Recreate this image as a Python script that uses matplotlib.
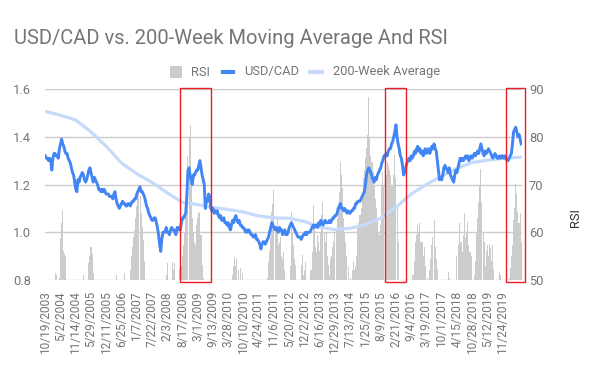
import matplotlib
matplotlib.use("Agg")
import matplotlib.pyplot as plt
from matplotlib.patches import Rectangle
from matplotlib.lines import Line2D
import numpy as np

plt.rcParams['font.family'] = ['Roboto', 'DejaVu Sans']

# ---------------- data (sampled every 2 weeks from 10/19/2003) ----------------
SAMPLE_WEEKS = 2
N_WEEKS = 876

usdcad_2003 = [1.32, 1.31, 1.31, 1.30, 1.31, 1.30, 1.26, 1.31, 1.33, 1.33, 1.32, 1.32, 1.31, 1.35, 1.37, 1.39, 1.37, 1.36, 1.34, 1.33, 1.33, 1.31, 1.30, 1.29, 1.27, 1.25]
usdcad_2004 = [1.24, 1.21, 1.18, 1.17, 1.22, 1.21, 1.23, 1.24, 1.25, 1.24, 1.22, 1.21, 1.22, 1.24, 1.26, 1.27, 1.25, 1.23, 1.21, 1.23, 1.22, 1.21, 1.20, 1.18, 1.18, 1.17]
usdcad_2005 = [1.18, 1.17, 1.18, 1.17, 1.16, 1.16, 1.16, 1.15, 1.15, 1.15, 1.14, 1.16, 1.17, 1.14, 1.12, 1.11, 1.10, 1.11, 1.12, 1.13, 1.12, 1.12, 1.11, 1.11, 1.12, 1.12]
usdcad_2006 = [1.11, 1.12, 1.13, 1.13, 1.14, 1.14, 1.16, 1.17, 1.18, 1.19, 1.17, 1.17, 1.16, 1.15, 1.13, 1.11, 1.10, 1.08, 1.07, 1.06, 1.05, 1.05, 1.06, 1.06, 1.04, 1.02]
usdcad_2007 = [0.99, 0.95, 0.92, 0.97, 1.00, 1.00, 1.00, 1.02, 1.00, 1.00, 0.99, 1.01, 1.02, 1.01, 1.01, 1.00, 0.99, 1.02, 1.02, 1.01, 1.01, 1.04, 1.06, 1.06, 1.07, 1.08]
usdcad_2008 = [1.15, 1.26, 1.27, 1.24, 1.22, 1.20, 1.24, 1.24, 1.25, 1.26, 1.26, 1.28, 1.30, 1.27, 1.24, 1.22, 1.20, 1.10, 1.14, 1.13, 1.16, 1.15, 1.10, 1.09, 1.10, 1.08]
usdcad_2009 = [1.09, 1.08, 1.09, 1.07, 1.06, 1.07, 1.05, 1.05, 1.06, 1.04, 1.04, 1.03, 1.04, 1.02, 1.01, 1.03, 1.05, 1.04, 1.06, 1.07, 1.05, 1.04, 1.05, 1.03, 1.03, 1.02]
usdcad_2010 = [1.02, 1.01, 1.00, 1.01, 1.00, 1.01, 1.00, 0.99, 0.99, 0.98, 0.98, 0.99, 0.97, 0.97, 0.96, 0.95, 0.93, 0.95, 0.96, 0.96, 0.95, 0.96, 0.97, 0.98, 1.00, 1.02]
usdcad_2011 = [1.04, 1.03, 1.02, 1.01, 1.02, 1.01, 1.00, 1.02, 1.01, 1.01, 0.99, 1.00, 1.01, 0.99, 0.99, 1.00, 1.02, 1.03, 1.04, 1.03, 1.02, 1.01, 1.00, 0.99, 0.98, 0.98]
usdcad_2012 = [0.98, 0.97, 0.98, 0.99, 0.99, 1.00, 0.99, 1.00, 1.00, 1.00, 1.01, 1.02, 1.03, 1.02, 1.03, 1.03, 1.02, 1.04, 1.03, 1.05, 1.04, 1.03, 1.04, 1.05, 1.04, 1.04]
usdcad_2013 = [1.04, 1.05, 1.04, 1.05, 1.06, 1.06, 1.07, 1.07, 1.08, 1.10, 1.11, 1.12, 1.10, 1.10, 1.09, 1.10, 1.09, 1.08, 1.09, 1.08, 1.08, 1.09, 1.09, 1.10, 1.10, 1.12]
usdcad_2014 = [1.12, 1.13, 1.13, 1.13, 1.14, 1.15, 1.16, 1.17, 1.20, 1.24, 1.26, 1.27, 1.26, 1.25, 1.23, 1.22, 1.21, 1.23, 1.22, 1.24, 1.25, 1.26, 1.27, 1.29, 1.30, 1.32]
usdcad_2015 = [1.32, 1.33, 1.32, 1.34, 1.35, 1.35, 1.37, 1.38, 1.40, 1.42, 1.45, 1.40, 1.37, 1.35, 1.32, 1.31, 1.28, 1.24, 1.25, 1.27, 1.29, 1.30, 1.31, 1.30, 1.32, 1.31]
usdcad_2016 = [1.32, 1.34, 1.33, 1.35, 1.36, 1.34, 1.35, 1.33, 1.34, 1.32, 1.34, 1.35, 1.33, 1.34, 1.35, 1.33, 1.34, 1.36, 1.35, 1.37, 1.35, 1.34, 1.30, 1.26, 1.22, 1.23]
usdcad_2017 = [1.22, 1.24, 1.27, 1.28, 1.27, 1.26, 1.25, 1.27, 1.24, 1.23, 1.22, 1.21, 1.24, 1.26, 1.25, 1.27, 1.29, 1.31, 1.30, 1.31, 1.30, 1.31, 1.32, 1.31, 1.32, 1.30]
usdcad_2018 = [1.31, 1.32, 1.31, 1.32, 1.33, 1.32, 1.33, 1.34, 1.33, 1.35, 1.37, 1.35, 1.33, 1.32, 1.34, 1.33, 1.34, 1.35, 1.34, 1.33, 1.32, 1.31, 1.32, 1.33, 1.32, 1.31]
usdcad_2019 = [1.31, 1.32, 1.31, 1.32, 1.32, 1.31, 1.32, 1.31, 1.30, 1.30, 1.31, 1.32, 1.33, 1.37, 1.42, 1.43, 1.44, 1.42, 1.40, 1.41, 1.39, 1.37]

rsi_2003 = [45, 44, 46, 43, 47, 46, 42, 48, 49, 51.5, 51, 49, 48, 50.5, 58.8, 62, 64.7, 56, 55.5, 55, 48, 45, 42, 40, 38, 36]
rsi_2004 = [34, 33, 30, 32, 38, 40, 44, 46, 49, 51, 48, 44, 45, 49, 53.5, 55, 57, 55.5, 51.5, 47, 45, 43, 42, 38, 36, 35]
rsi_2005 = [40, 42, 44, 41, 40, 42, 43, 42, 44, 43, 42, 46, 48, 51, 47, 40, 36, 38, 42, 46, 48, 51.5, 47, 45, 46, 48]
rsi_2006 = [52, 55, 57, 59, 60.5, 63, 65.4, 68, 69.8, 67.5, 64, 61, 58.4, 54, 48, 44, 40, 37, 38, 36, 35, 37, 39, 36, 32, 28]
rsi_2007 = [30, 35, 38, 45, 48, 47, 49, 51, 53.5, 49, 48, 47, 50, 53.8, 52, 53.5, 49, 47, 48, 52.5, 49, 53, 55, 57.3, 60, 64.3]
rsi_2008 = [70, 75.9, 80, 82.5, 70, 63, 60.1, 58, 57.3, 61.5, 63, 64.3, 64, 59.4, 53.1, 50.5, 45, 40, 42, 44, 38, 36, 40, 42, 40, 38]
rsi_2009 = [42, 44, 46, 45, 44, 45, 43, 42, 46, 44, 40, 38, 37, 36, 38, 44, 51, 53, 54.9, 53, 54.5, 52, 49, 52.6, 48, 51.5]
rsi_2010 = [45, 46, 43, 45, 44, 42, 40, 41, 42, 40, 38, 40, 38, 36, 35, 38, 42, 44, 41, 38, 36, 40, 50.5, 53.8, 56, 58.7]
rsi_2011 = [64.3, 66, 68.9, 60.8, 61, 62.9, 57.3, 58, 59.1, 55, 54.5, 55.9, 52, 48, 46, 45, 49, 53, 64.3, 60, 57.3, 54.5, 53.1, 48, 45, 43]
rsi_2012 = [50, 53.1, 55.2, 51, 52, 53.8, 49, 47, 48, 50, 52, 55.9, 65.7, 61.5, 57, 55.9, 59.4, 58, 56, 60.1, 63.6, 66.4, 60, 58, 60.1, 55]
rsi_2013 = [53.1, 51, 54.5, 55, 57, 58, 60, 60.8, 62.9, 66, 68.5, 74.8, 72, 69.2, 63, 60, 58, 55, 53, 49, 50.5, 48, 52, 54, 52, 53]
rsi_2014 = [55, 61.5, 62, 63.6, 65, 67, 71.3, 73, 75.5, 77.6, 80.3, 88.4, 79.7, 76, 74.8, 72.7, 69.9, 67, 65, 62.9, 60, 59.4, 61.5, 69.9, 72.7, 69.9]
rsi_2015 = [70, 72, 74.8, 74.1, 73, 72, 69.9, 70, 72, 76.2, 71.3, 65, 58, 50, 45, 40, 35, 33, 38, 44, 45, 48, 46, 47, 45, 51]
rsi_2016 = [51, 54, 58, 59.5, 61.5, 60, 62, 58, 58, 55, 57, 53, 49, 50.5, 48, 52, 54.5, 57.3, 59, 62.5, 57, 54.5, 52.4, 47, 40, 38]
rsi_2017 = [40, 42, 45, 48, 49, 48, 51.7, 50.5, 44, 42, 46, 49, 48, 50, 55, 57.3, 62, 58, 58, 55.9, 59.4, 64, 58.7, 60, 62.2, 57.3]
rsi_2018 = [55.9, 55, 50, 48, 51, 54, 60.1, 63, 66.4, 70, 73.2, 66.4, 60, 58, 53, 56, 57.3, 55, 57.6, 56.6, 54, 57.3, 52.4, 47, 45, 46]
rsi_2019 = [49, 51.7, 51, 46, 44, 45, 47, 43, 45, 48, 50.5, 52.6, 55, 57.3, 62.5, 65, 70.2, 68, 64.3, 62, 64, 58]

ma_weeks = [0, 28, 56, 84, 112, 140, 168, 196, 224, 252, 280, 308, 336, 364, 392, 420,
            448, 476, 504, 532, 560, 588, 616, 644, 672, 700, 728, 756, 784, 812, 840, 874]
ma_values = [1.506, 1.49, 1.47, 1.42, 1.36, 1.29, 1.245, 1.209, 1.165, 1.125, 1.116, 1.104,
             1.095, 1.085, 1.068, 1.060, 1.059, 1.045, 1.022, 1.011, 1.017, 1.032, 1.059,
             1.105, 1.16, 1.20, 1.235, 1.268, 1.292, 1.302, 1.309, 1.315]

tick_labels = ["10/19/2003", "5/2/2004", "11/14/2004", "5/29/2005", "12/11/2005", "6/25/2006",
               "1/7/2007", "7/22/2007", "2/3/2008", "8/17/2008", "3/1/2009", "9/13/2009",
               "3/28/2010", "10/10/2010", "4/24/2011", "11/6/2011", "5/20/2012", "12/2/2012",
               "6/16/2013", "12/29/2013", "7/13/2014", "1/25/2015", "8/9/2015", "2/21/2016",
               "9/4/2016", "3/19/2017", "10/1/2017", "4/15/2018", "10/28/2018", "5/12/2019",
               "11/24/2019"]
TICK_EVERY_WEEKS = 28

# highlight boxes (week range) -- annotation positions
boxes = [(248.3, 303.5), (624.0, 662.7), (846.6, 881.0)]

usdcad = np.array(usdcad_2003 + usdcad_2004 + usdcad_2005 + usdcad_2006 + usdcad_2007 +
                  usdcad_2008 + usdcad_2009 + usdcad_2010 + usdcad_2011 + usdcad_2012 +
                  usdcad_2013 + usdcad_2014 + usdcad_2015 + usdcad_2016 + usdcad_2017 +
                  usdcad_2018 + usdcad_2019)
rsi = np.array(rsi_2003 + rsi_2004 + rsi_2005 + rsi_2006 + rsi_2007 + rsi_2008 + rsi_2009 +
               rsi_2010 + rsi_2011 + rsi_2012 + rsi_2013 + rsi_2014 + rsi_2015 + rsi_2016 +
               rsi_2017 + rsi_2018 + rsi_2019)
x = np.arange(len(usdcad)) * SAMPLE_WEEKS

# ---------------- figure ----------------
W, H = 600, 371
fig = plt.figure(figsize=(6, 3.71), dpi=100)
L, R, T, B = 45, 522, 89, 280
ax = fig.add_axes([L / W, 1 - B / H, (R - L) / W, (B - T) / H])
ax2 = ax.twinx()
ax.set_zorder(2)
ax2.set_zorder(1)
ax.patch.set_visible(False)

grey = '#757575'

# RSI bars (right axis)
ax2.bar(x, rsi, width=SAMPLE_WEEKS * 0.95, color='#cccccc', linewidth=0, align='center')
ax2.set_ylim(50, 90)
ax2.set_yticks([50, 60, 70, 80, 90])
ax2.grid(axis='y', color='#cccccc', linewidth=1.0)
ax2.set_axisbelow(True)

# lines (left axis)
ax.plot(ma_weeks, ma_values, color='#c6dafc', linewidth=2.3, solid_capstyle='round')
ax.plot(x, usdcad, color='#4285f4', linewidth=2.1, solid_joinstyle='round')
ax.set_ylim(0.8, 1.6)
ax.set_yticks([0.8, 1.0, 1.2, 1.4, 1.6])
ax.set_yticklabels(['0.8', '1.0', '1.2', '1.4', '1.6'])
ax.set_xlim(-0.5, N_WEEKS - 0.5)
ax.set_xticks(np.arange(len(tick_labels)) * TICK_EVERY_WEEKS)
ax.set_xticklabels(tick_labels, rotation=90)

for a in (ax, ax2):
    for s in a.spines.values():
        s.set_visible(False)
    a.tick_params(length=0, colors=grey, labelsize=9.3)
ax.tick_params(axis='x', labelsize=8.6, pad=8)
ax.tick_params(axis='y', pad=10)
ax2.tick_params(axis='y', pad=5)

# red highlight boxes
for (w0, w1) in boxes:
    ax.add_patch(Rectangle((w0, 0.7916), w1 - w0, 1.604 - 0.7916, fill=False,
                           edgecolor='#ee1c25', linewidth=1.0, clip_on=False, zorder=5))

# axis title
fig.text(576 / W, 1 - 218 / H, 'RSI', rotation=90, ha='center', va='center',
         color='#333333', fontsize=9.3)

# title
fig.text(14 / W, 1 - 43.5 / H, 'USD/CAD vs. 200-Week Moving Average And RSI',
         ha='left', va='baseline', color=grey, fontsize=14.5)

# legend (manual)
ly = 1 - 72 / H
fig.patches.append(Rectangle((170 / W, 1 - 78 / H), 12 / W, 12 / H, transform=fig.transFigure,
                             color='#cccccc', linewidth=0))
fig.text(191 / W, ly, 'RSI', ha='left', va='center', color=grey, fontsize=9.3)
fig.lines.append(Line2D([223 / W, 233 / W], [ly, ly], transform=fig.transFigure,
                        color='#4285f4', linewidth=3))
fig.text(244 / W, ly, 'USD/CAD', ha='left', va='center', color=grey, fontsize=9.3)
fig.lines.append(Line2D([310 / W, 322 / W], [ly, ly], transform=fig.transFigure,
                        color='#c6dafc', linewidth=3))
fig.text(333 / W, ly, '200-Week Average', ha='left', va='center', color=grey, fontsize=9.3)

fig.savefig('out.png', dpi=100)
